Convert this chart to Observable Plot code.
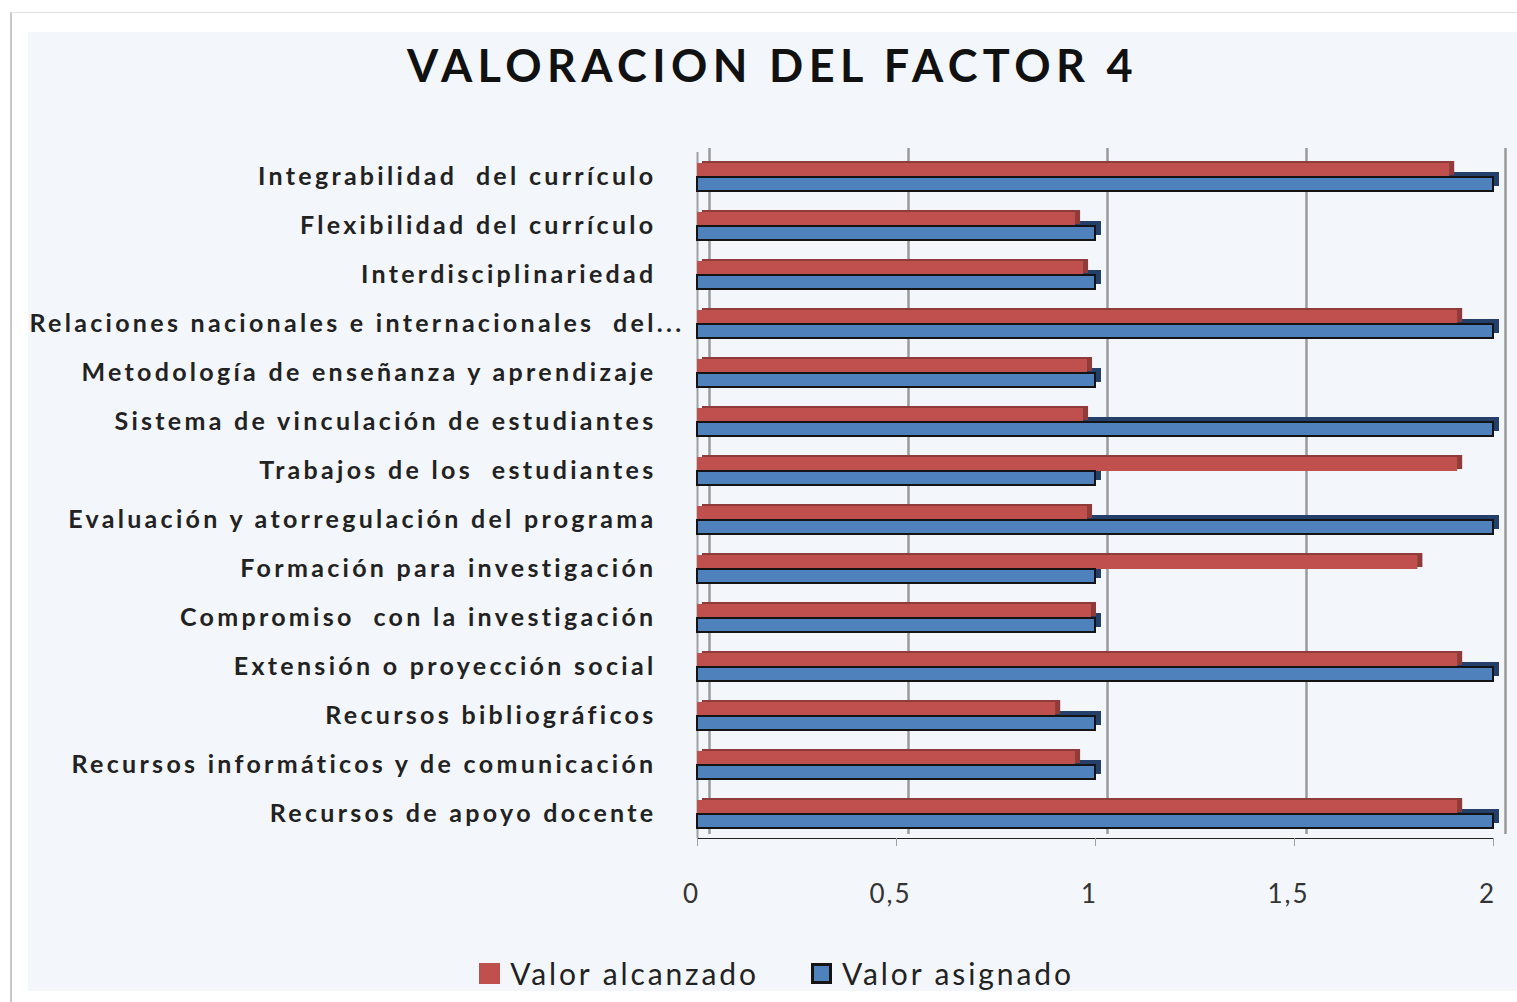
<!DOCTYPE html>
<html>
<head>
<meta charset="utf-8">
<script src="https://cdn.jsdelivr.net/npm/d3@7"></script>
<script src="https://cdn.jsdelivr.net/npm/@observablehq/plot@0.6"></script>
<style>
  body { margin: 0; background: #ffffff; font-family: Lato, "Open Sans", sans-serif; }
  #card { position: absolute; left: 10px; top: 12px; width: 1507px; height: 990px;
          border-left: 2px solid #c8c8c8; border-top: 1px solid #e2e2e2; box-sizing: border-box; }
  #area { position: absolute; left: 16px; top: 19px; width: 1489px; height: 959px; background: #f3f6fb; overflow: hidden; }
  #title { height: 88px; display: flex; align-items: flex-start; justify-content: center; padding-top: 6px; padding-left: 0px;
           font-weight: 700; font-size: 45px; color: #111; letter-spacing: 5.4px; white-space: pre; box-sizing: border-box; }
  #legend { display: flex; justify-content: center; gap: 52px; font-size: 30px; letter-spacing: 2.9px; color: #222; margin-top: 25px; padding-left: 8px; }
  #legend .item { display: flex; align-items: center; gap: 10px; }
  #legend .sw { width: 21px; height: 21px; display: inline-block; box-sizing: border-box; }
  svg text { fill: #222; }
  g[aria-label^="x-axis"] text { font-size: 26px; fill: #333; letter-spacing: 2px; font-weight: 400; translate: -6px 4px; }
  g[aria-label^="fy-axis"] text { letter-spacing: 3.3px; font-weight: 700; }
</style>
</head>
<body>
<div id="card"><div id="area">
  <div id="title"></div>
  <div id="chart"></div>
  <div id="legend"></div>
</div></div>
<script>
const titleText = "VALORACION DEL FACTOR 4";
const categories = [
  "Integrabilidad  del currículo",
  "Flexibilidad del currículo",
  "Interdisciplinariedad",
  "Relaciones nacionales e internacionales  del...",
  "Metodología de enseñanza y aprendizaje",
  "Sistema de vinculación de estudiantes",
  "Trabajos de los  estudiantes",
  "Evaluación y atorregulación del programa",
  "Formación para investigación",
  "Compromiso  con la investigación",
  "Extensión o proyección social",
  "Recursos bibliográficos",
  "Recursos informáticos y de comunicación",
  "Recursos de apoyo docente"
];
const valorAlcanzado = [1.89, 0.95, 0.97, 1.91, 0.98, 0.97, 1.91, 0.98, 1.81, 0.99, 1.91, 0.90, 0.95, 1.91];
const valorAsignado  = [2, 1, 1, 2, 1, 2, 1, 2, 1, 1, 2, 1, 1, 2];
const series = ["Valor alcanzado", "Valor asignado"];
const seriesColors = ["#c0504d", "#4f81bd"];
const seriesDepth = ["#8e3b39", "#24406a"];
const xTicks = [0, 0.5, 1, 1.5, 2];

const rows = categories.flatMap((c, i) => [
  {category: c, series: series[0], value: valorAlcanzado[i]},
  {category: c, series: series[1], value: valorAsignado[i]}
]);

document.getElementById("title").textContent = titleText;

const isS = k => d => d.series === series[k];

const chart = Plot.plot({
  width: 1489,
  height: 810,
  marginLeft: 669,
  marginRight: 24,
  marginTop: 27,
  marginBottom: 87,
  style: {background: "transparent", fontFamily: "Lato, 'Open Sans', sans-serif", fontSize: "25px", color: "#222", overflow: "visible"},
  facet: {data: rows, y: "category"},
  fy: {domain: categories, padding: 0, label: null, tickSize: 0, tickPadding: 41, axis: "left"},
  y: {domain: series, axis: null, paddingInner: 0, paddingOuter: 0.66},
  x: {domain: [0, 2], ticks: xTicks, tickFormat: d => String(d).replace(".", ","), tickSize: 8, tickPadding: 34, label: null, line: true},
  marks: [
    Plot.ruleX(xTicks, {x: d => d, dx: 12, dy: -4, stroke: "#9a9a9a", strokeWidth: 2.5}),
    Plot.ruleX([0], {x: d => d, stroke: "#a0a0a0", strokeWidth: 2}),
    Plot.barX(rows, {filter: isS(1), x: "value", y: "series", fill: seriesDepth[1], dx: 6, dy: -5}),
    Plot.barX(rows, {filter: isS(0), x: "value", y: "series", fill: seriesDepth[0], dx: 5, dy: -2}),
    Plot.barX(rows, {filter: isS(0), x: "value", y: "series", fill: seriesColors[0]}),
    Plot.barX(rows, {filter: isS(1), x: "value", y: "series", fill: seriesColors[1], stroke: "#141414", strokeWidth: 2})
  ]
});
document.getElementById("chart").appendChild(chart);
chart.querySelectorAll('g[aria-label^="x-axis"]').forEach(g => { g.style.color = "#a0a0a0"; });
// the long truncated label overflows its slot in the original, as Excel does
chart.querySelectorAll('g[aria-label^="fy-axis"] text').forEach(t => {
  if (t.textContent.startsWith("Relaciones")) t.style.translate = "28px 0";
});

const legend = document.getElementById("legend");
series.forEach((s, i) => {
  const item = document.createElement("div");
  item.className = "item";
  const sw = document.createElement("span");
  sw.className = "sw";
  sw.style.background = seriesColors[i];
  if (i === 1) sw.style.border = "3px solid #141414";
  const t = document.createElement("span");
  t.textContent = s;
  item.appendChild(sw); item.appendChild(t);
  legend.appendChild(item);
});
</script>
</body>
</html>
